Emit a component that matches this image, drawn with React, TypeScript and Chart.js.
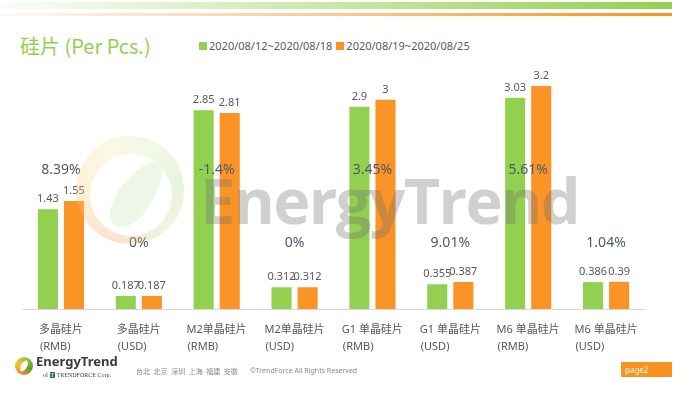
import React, { useEffect, useRef } from "react";
import { Chart, registerables } from "chart.js";

Chart.register(...registerables);

const categoryNames = ["多晶硅片", "多晶硅片", "M2单晶硅片", "M2单晶硅片", "G1 单晶硅片", "G1 单晶硅片", "M6 单晶硅片", "M6 单晶硅片"];
const currencies = ["(RMB)", "(USD)", "(RMB)", "(USD)", "(RMB)", "(USD)", "(RMB)", "(USD)"];
const seriesNames = ["2020/08/12~2020/08/18", "2020/08/19~2020/08/25"];
const week1 = [1.43, 0.187, 2.85, 0.312, 2.9, 0.355, 3.03, 0.386];
const week2 = [1.55, 0.187, 2.81, 0.312, 3, 0.387, 3.2, 0.39];
const changePct = [8.39, 0, -1.4, 0, 3.45, 9.01, 5.61, 1.04];

const GREEN = "#92d050";
const ORANGE = "#fb9427";
const FONT = '"Noto Sans", "Noto Sans CJK SC", sans-serif';

const labelPlugin = {
  id: "labels",
  afterDatasetsDraw(chart: any) {
    const ctx = chart.ctx;
    const xs = chart.scales.x;
    const ys = chart.scales.y;
    ctx.save();
    // value labels
    ctx.font = `11px ${FONT}`;
    ctx.fillStyle = "#595959";
    ctx.textAlign = "center";
    ctx.textBaseline = "middle";
    chart.data.datasets.forEach((ds: any, di: number) => {
      const meta = chart.getDatasetMeta(di);
      meta.data.forEach((bar: any, i: number) => {
        ctx.fillText(String(ds.data[i]), bar.x, bar.y - 10);
      });
    });
    // percent change labels
    ctx.font = `14px ${FONT}`;
    ctx.fillStyle = "#4f5968";
    changePct.forEach((v, i) => {
      const y = ys.getPixelForValue(i % 2 === 0 ? 2.0 : 0.95);
      ctx.fillText(`${v}%`, xs.getPixelForValue(i), y);
    });
    // category labels
    ctx.font = `11px ${FONT}`;
    ctx.fillStyle = "#595959";
    ctx.textAlign = "left";
    categoryNames.forEach((name, i) => {
      const x = xs.getPixelForValue(i);
      const w = ctx.measureText(name).width;
      const sx = x - w / 2;
      ctx.fillText(name, sx, xs.bottom + 21);
      ctx.fillText(currencies[i], sx + 1, xs.bottom + 38);
    });
    ctx.restore();
  },
};

export default function App() {
  const ref = useRef<HTMLCanvasElement>(null);
  useEffect(() => {
    if (!ref.current) return;
    const chart = new Chart(ref.current, {
      type: "bar",
      data: {
        labels: categoryNames.map((n, i) => [n, currencies[i]]),
        datasets: [
          { label: seriesNames[0], data: week1, backgroundColor: GREEN, borderWidth: 0 },
          { label: seriesNames[1], data: week2, backgroundColor: ORANGE, borderWidth: 0 },
        ],
      },
      options: {
        responsive: false,
        animation: false,
        layout: { padding: { left: 22, right: 44, top: 65, bottom: 85 } },
        datasets: { bar: { categoryPercentage: 0.67, barPercentage: 0.77 } },
        plugins: { legend: { display: false }, tooltip: { enabled: false } },
        scales: {
          x: {
            grid: { display: false, drawTicks: false },
            border: { display: true, color: "#d9d9d9", width: 1 },
            ticks: { display: false },
          },
          y: { display: false, min: 0, max: 3.5 },
        },
      },
      plugins: [labelPlugin],
    });
    return () => chart.destroy();
  }, []);

  return (
    <div style={{ position: "fixed", left: 0, top: 0, width: 689, height: 394, background: "#fff", overflow: "hidden", fontFamily: FONT }}>
      {/* header bars */}
      <div style={{ position: "absolute", left: 0, top: 2, width: 672, height: 7, background: "linear-gradient(to right, rgba(146,208,80,0.04), rgba(146,208,80,0.5) 50%, #92d050)" }} />
      <div style={{ position: "absolute", left: 0, top: 12.5, width: 672, height: 3, background: "linear-gradient(to right, rgba(247,147,30,0.05), rgba(247,147,30,0.5) 50%, #f7931e)" }} />
      {/* title */}
      <div style={{ position: "absolute", left: 20, top: 32, fontSize: 20, color: GREEN, fontFamily: '"Noto Sans CJK SC", sans-serif', whiteSpace: "nowrap", lineHeight: "28px" }}>硅片 (Per Pcs.)</div>
      {/* legend */}
      <div style={{ position: "absolute", left: 199, top: 38, fontSize: 11, color: "#595959", whiteSpace: "nowrap", display: "flex", alignItems: "center", lineHeight: "16px" }}>
        <span style={{ width: 8, height: 8, background: GREEN, display: "inline-block", marginRight: 2 }} />
        <span>{seriesNames[0]}</span>
        <span style={{ width: 8, height: 8, background: ORANGE, display: "inline-block", marginLeft: 4, marginRight: 2 }} />
        <span>{seriesNames[1]}</span>
      </div>
      <canvas ref={ref} width={689} height={394} style={{ position: "absolute", left: 0, top: 0, width: 689, height: 394 }} />
      {/* watermark logo */}
      <div style={{ position: "absolute", left: 76, top: 136, width: 108, height: 108, borderRadius: "50%", background: "conic-gradient(from 200deg, #f4a25a, #f8c77a, #f9e6a0, #d8e9b4, #b9d98a, #c7dd9a, #f4a25a)", opacity: 0.3, pointerEvents: "none" }}>
        <div style={{ position: "absolute", left: 14, top: 18, width: 82, height: 82, borderRadius: "50%", background: "#fff" }} />
        <div style={{ position: "absolute", left: 44, top: 20, width: 34, height: 76, borderRadius: "50% 50% 50% 50% / 60% 60% 40% 40%", background: "#c9dfae", transform: "rotate(35deg)" }} />
      </div>
      {/* watermark text */}
      <div style={{ position: "absolute", left: 200, top: 160, fontSize: 63, fontWeight: 700, color: "rgba(110,110,110,0.32)", fontFamily: '"Open Sans", sans-serif', letterSpacing: -1.7, whiteSpace: "nowrap", lineHeight: "80px", pointerEvents: "none" }}>EnergyTrend</div>
      {/* footer */}
      <div style={{ position: "absolute", left: 15, top: 357, width: 18, height: 18, borderRadius: "50%", background: "conic-gradient(from 200deg, #f08a24, #f7c23a, #8cc63f, #5aa02c, #f08a24)" }}>
        <div style={{ position: "absolute", left: 6, top: 3, width: 6, height: 12, borderRadius: "50%", background: "#fff", transform: "rotate(30deg)" }} />
      </div>
      <div style={{ position: "absolute", left: 36, top: 352, fontSize: 13, fontWeight: 700, color: "#3a3a3a", whiteSpace: "nowrap", lineHeight: "18px" }}>EnergyTrend</div>
      <div style={{ position: "absolute", left: 43, top: 371, fontSize: 6, color: "#444", whiteSpace: "nowrap", fontFamily: '"Liberation Serif", serif', lineHeight: "8px" }}>of <span style={{ background: "#2d7a3a", color: "#fff", padding: "0 1px" }}>T</span> TRENDFORCE Corp.</div>
      <div style={{ position: "absolute", left: 136, top: 366, fontSize: 7, color: "#8a8a8a", whiteSpace: "nowrap", fontFamily: '"Noto Sans CJK SC", sans-serif', lineHeight: "10px", wordSpacing: 2 }}>台北 北京 深圳 上海 福建 安徽</div>
      <div style={{ position: "absolute", left: 250, top: 366, fontSize: 7, color: "#8a8a8a", whiteSpace: "nowrap", lineHeight: "10px" }}>©TrendForce All Rights Reserved</div>
      <div style={{ position: "absolute", left: 621, top: 362, width: 51, height: 15, background: "#f7931e", color: "#fff", fontSize: 8, lineHeight: "15px", paddingLeft: 4, boxSizing: "border-box" }}>page2</div>
    </div>
  );
}
